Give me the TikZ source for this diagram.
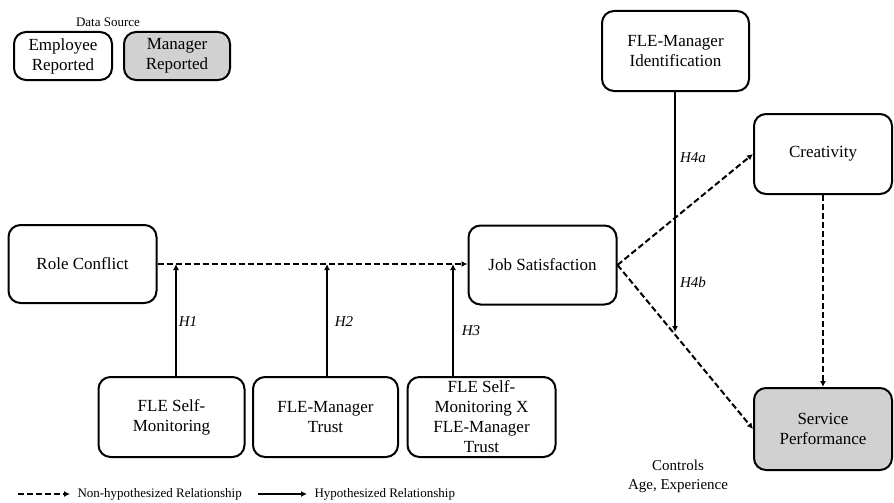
\documentclass[tikz,border=0pt]{standalone}
\usepackage{fontspec}
\setmainfont{Liberation Serif}
\usetikzlibrary{arrows.meta,calc}
\begin{document}
\begin{tikzpicture}[x=1pt,y=-1pt,
  box/.style={draw,line width=2pt,rounded corners=12pt,align=center,
    font=\fontsize{17}{20}\selectfont,inner sep=0pt},
  mgr/.style={box,fill=black!18},
  solidarr/.style={line width=2pt,-{Latex[length=6pt,width=6pt]}},
  dasharr/.style={line width=2pt,dash pattern=on 6pt off 3pt,-{Latex[length=6pt,width=6pt]}},
  hlab/.style={font=\fontsize{15}{17}\selectfont\itshape},
  small/.style={font=\fontsize{13}{15}\selectfont}]
\useasboundingbox (0,0) rectangle (894,503);
% data source
\node[small] (ds) at (108,22) {Data Source};
\node[box,minimum width=98pt,minimum height=48pt] (emp) at (63,56) {Employee\\Reported};
\node[mgr,minimum width=106pt,minimum height=48pt] (mgrrep) at (177,56) {Manager\\Reported};
% main boxes
\node[box,minimum width=148pt,minimum height=78pt] (rc) at (82.5,264) {Role Conflict};
\node[box,minimum width=148pt,minimum height=79pt] (js) at (542.5,265) {Job Satisfaction};
\node[box,minimum width=146pt,minimum height=80pt] (sm) at (171.5,417) {FLE Self-\\Monitoring};
\node[box,minimum width=145pt,minimum height=80pt] (tr) at (325.5,417) {FLE-Manager\\Trust};
\node[box,minimum width=148pt,minimum height=80pt] (ix) at (481.5,417) {FLE Self-\\Monitoring X\\FLE-Manager\\Trust};
\node[box,minimum width=147pt,minimum height=80pt] (fmi) at (675.5,51) {FLE-Manager\\Identification};
\node[box,minimum width=138pt,minimum height=80pt] (cr) at (823,154) {Creativity};
\node[mgr,minimum width=138pt,minimum height=82pt] (sp) at (823,429) {Service\\Performance};
% coordinates
\coordinate (h1) at (176,264);
\coordinate (h2) at (327,264);
\coordinate (h3) at (453,264);
\coordinate (h4) at (675,332);
% connectors
\draw[dasharr] (rc.east |- h1) -- (js.west |- h1);
\draw[solidarr] (h1 |- sm.north) -- (h1);
\draw[solidarr] (h2 |- tr.north) -- (h2);
\draw[solidarr] (h3 |- ix.north) -- (h3);
\draw[dasharr] (js.east) -- (cr.west);
\draw[dasharr] (js.east) -- (sp.west);
\draw[dasharr] (cr.south) -- (sp.north);
\draw[solidarr] (h4 |- fmi.south) -- (h4);
% labels
\node[hlab] (l1) at (188,322) {H1};
\node[hlab] (l2) at (344,322) {H2};
\node[hlab] (l3) at (471,331) {H3};
\node[hlab] (l4a) at (693,158) {H4a};
\node[hlab] (l4b) at (693,282) {H4b};
\node[font=\fontsize{15}{19}\selectfont,align=center] (ctl) at (678,476) {Controls\\Age, Experience};
% legend
\coordinate (d1) at (18,494);
\coordinate (d2) at (70,494);
\draw[dasharr] (d1) -- (d2);
\node[small,anchor=west] (nh) at (74,494) {Non-hypothesized Relationship};
\coordinate (s1) at (258,494);
\coordinate (s2) at (307,494);
\draw[solidarr] (s1) -- (s2);
\node[small,anchor=west] (hy) at (311,494) {Hypothesized Relationship};
\end{tikzpicture}
\end{document}
